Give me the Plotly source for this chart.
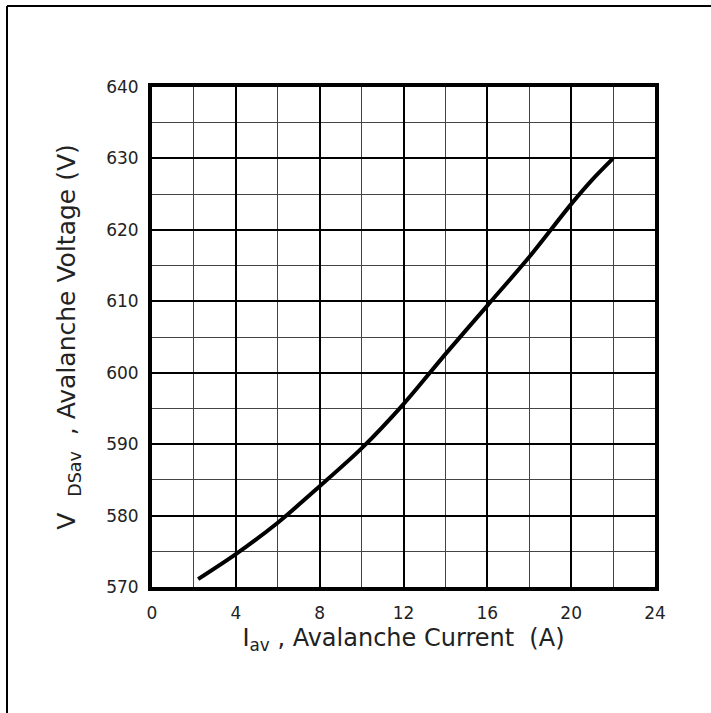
import plotly.graph_objects as go

# Data
current_a = [2.2, 4.0, 6.0, 8.0, 10.0, 12.0, 14.0, 16.0, 18.0, 20.0, 21.0, 22.0]
voltage_v = [571.1, 574.6, 579.0, 584.1, 589.4, 595.6, 602.6, 609.4, 616.2, 623.6, 627.0, 630.0]

x_ticks = [0, 4, 8, 12, 16, 20, 24]
y_ticks = [570, 580, 590, 600, 610, 620, 630, 640]

W, H = 711, 713
L, R, T, B = 152, 56, 87, 126
pw, ph = W - L - R, H - T - B

fig = go.Figure()
fig.add_trace(go.Scatter(
    x=current_a, y=voltage_v, mode="lines",
    line=dict(color="black", width=4, shape="spline", smoothing=0.8),
    showlegend=False, hoverinfo="skip"))

font_family = "DejaVu Sans, sans-serif"

fig.update_layout(
    width=W, height=H,
    margin=dict(l=L, r=R, t=T, b=B, pad=0),
    paper_bgcolor="white", plot_bgcolor="white",
    font=dict(family=font_family, color="black"),
    xaxis=dict(
        range=[0, 24], tickvals=x_ticks, ticktext=[str(v) for v in x_ticks],
        showgrid=True, gridcolor="black", gridwidth=2,
        minor=dict(dtick=2, tick0=0, showgrid=True, gridcolor="#444", gridwidth=1),
        zeroline=False, showline=True, linecolor="black", linewidth=4, mirror=True,
        ticks="", ticklabelstandoff=8, tickfont=dict(size=17, color="#222"),
        title=dict(text="I<sub>av</sub> , Avalanche Current &nbsp;(A)", font=dict(size=24, color="#222"), standoff=8),
    ),
    yaxis=dict(
        range=[570, 640], tickvals=y_ticks, ticktext=[str(v) for v in y_ticks],
        showgrid=True, gridcolor="black", gridwidth=2,
        minor=dict(dtick=5, tick0=570, showgrid=True, gridcolor="#444", gridwidth=1),
        zeroline=False, showline=True, linecolor="black", linewidth=4, mirror=True,
        ticks="", ticklabelstandoff=6, tickfont=dict(size=17, color="#222"),
        title=dict(text="V &nbsp;<sub>DSav</sub> &nbsp;, Avalanche Voltage (V)", font=dict(size=25, color="#222"), standoff=24),
    ),
)

# Outer frame: left and top edges of the page box
fx = (7 - L) / pw
fy = 1 + (T - 6) / ph
fig.add_shape(type="line", xref="paper", yref="paper", x0=fx, x1=(W - L) / pw + 0.01, y0=fy, y1=fy,
              line=dict(color="black", width=2))
fig.add_shape(type="line", xref="paper", yref="paper", x0=fx, x1=fx, y0=fy, y1=-(B + 5) / ph,
              line=dict(color="black", width=2))

fig.write_html("out.html")
